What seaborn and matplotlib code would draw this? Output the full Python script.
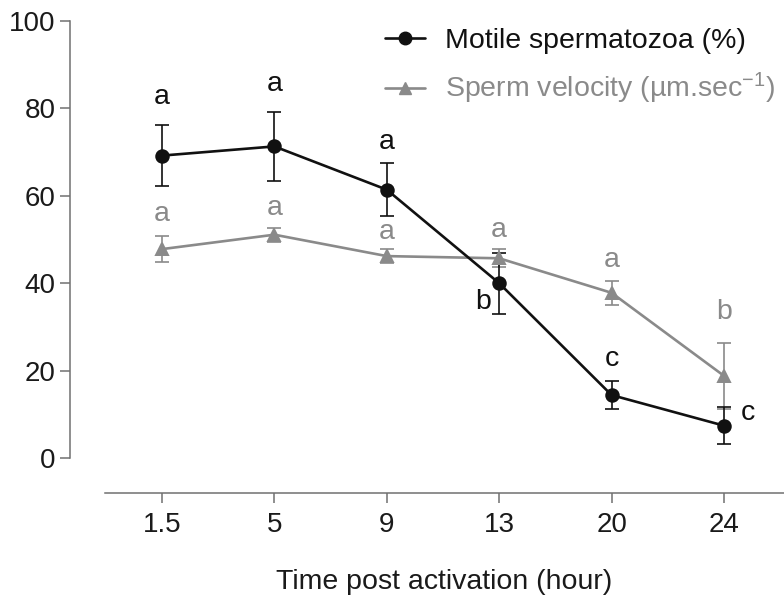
import matplotlib
matplotlib.use("Agg")
import matplotlib.pyplot as plt
from matplotlib.lines import Line2D
import pandas as pd
import seaborn as sns

# values
times = ["1.5", "5", "9", "13", "20", "24"]
motile = [69.2, 71.3, 61.4, 40.0, 14.4, 7.4]
motile_err = [7.0, 7.9, 6.1, 7.0, 3.3, 4.3]
motile_letters = ["a", "a", "a", "b", "c", "c"]
velocity = [47.8, 51.1, 46.2, 45.7, 37.8, 18.8]
velocity_err = [3.0, 1.6, 1.6, 2.1, 2.8, 7.5]
velocity_letters = ["a", "a", "a", "a", "a", "b"]

black = "#111111"
gray = "#8a8a8a"
axis_gray = "#707070"

sns.set_style("ticks")
plt.rcParams["font.family"] = ["Liberation Sans", "DejaVu Sans"]
plt.rcParams["mathtext.fontset"] = "custom"
plt.rcParams["mathtext.rm"] = "Liberation Sans"
plt.rcParams["mathtext.it"] = "Liberation Sans:italic"
plt.rcParams["mathtext.bf"] = "Liberation Sans:bold"

df = pd.DataFrame({
    "time": times * 2,
    "value": velocity + motile,
    "series": ["velocity"] * 6 + ["motile"] * 6,
})

fig = plt.figure(figsize=(7.84, 6.01), dpi=100)
ax = fig.add_axes([105 / 784, 1 - 458 / 601, (784 - 105) / 784, (458 - 21) / 601])

# error bars first so the markers sit on top
ax.errorbar(range(6), velocity, yerr=velocity_err, fmt="none", ecolor=gray,
            elinewidth=1.2, capsize=5, capthick=1.2, zorder=1)
ax.errorbar(range(6), motile, yerr=motile_err, fmt="none", ecolor=black,
            elinewidth=1.2, capsize=5, capthick=1.2, zorder=1)

sns.pointplot(data=df, x="time", y="value", hue="series", order=times,
              hue_order=["velocity", "motile"],
              palette={"velocity": gray, "motile": black},
              markers=["^", "o"], linestyles=["-", "-"], errorbar=None,
              legend=False, markersize=9, linewidth=1.9, ax=ax)

ax.set_xlim(-0.507, 5.534)
ax.set_ylim(0, 100)
ax.set_yticks([0, 20, 40, 60, 80, 100])

for s in ["top", "right"]:
    ax.spines[s].set_visible(False)
for s in ["left", "bottom"]:
    ax.spines[s].set_position(("outward", 25.2))
    ax.spines[s].set_color(axis_gray)
    ax.spines[s].set_linewidth(1.1)

ax.tick_params(axis="both", direction="out", length=7, width=1.1,
               color=axis_gray, labelsize=20, labelcolor="#1a1a1a")
ax.tick_params(axis="y", pad=3.6)
ax.tick_params(axis="x", pad=6.5)

ax.set_ylabel("")
ax.set_xlabel("Time post activation (hour)", fontsize=20.5, color="#1a1a1a")
ax.xaxis.set_label_coords(0.5, -0.255)

# significance letters (offsets in pixels from the point)
motile_offsets = [(0, 59), (0, 62), (0, 48), (-16, -19), (0, 36), (24, 13)]
velocity_offsets = [(0, 35), (0, 27), (0, 24), (0, 28), (0, 33), (0, 64)]
for i in range(6):
    dx, dy = motile_offsets[i]
    ax.annotate(motile_letters[i], (i, motile[i]), xytext=(dx * 0.72, dy * 0.72),
                textcoords="offset points", ha="center", va="center",
                fontsize=20.5, color=black)
    dx, dy = velocity_offsets[i]
    ax.annotate(velocity_letters[i], (i, velocity[i]), xytext=(dx * 0.72, dy * 0.72),
                textcoords="offset points", ha="center", va="center",
                fontsize=20.5, color=gray)

handles = [
    Line2D([], [], color=black, lw=1.9, marker="o", markersize=9),
    Line2D([], [], color=gray, lw=1.9, marker="^", markersize=9),
]
labels = ["Motile spermatozoa (%)", "Sperm velocity (\u00b5m.sec$^{-1}$)"]
leg = ax.legend(handles, labels, loc="upper left", bbox_to_anchor=(385 / 784, 1 - 28 / 601),
                bbox_transform=fig.transFigure, frameon=False, fontsize=20.5,
                handlelength=1.4, handletextpad=0.7, labelspacing=0.6,
                borderpad=0, borderaxespad=0)
for t, c in zip(leg.get_texts(), [black, gray]):
    t.set_color(c)

fig.savefig("out.png", dpi=100)
